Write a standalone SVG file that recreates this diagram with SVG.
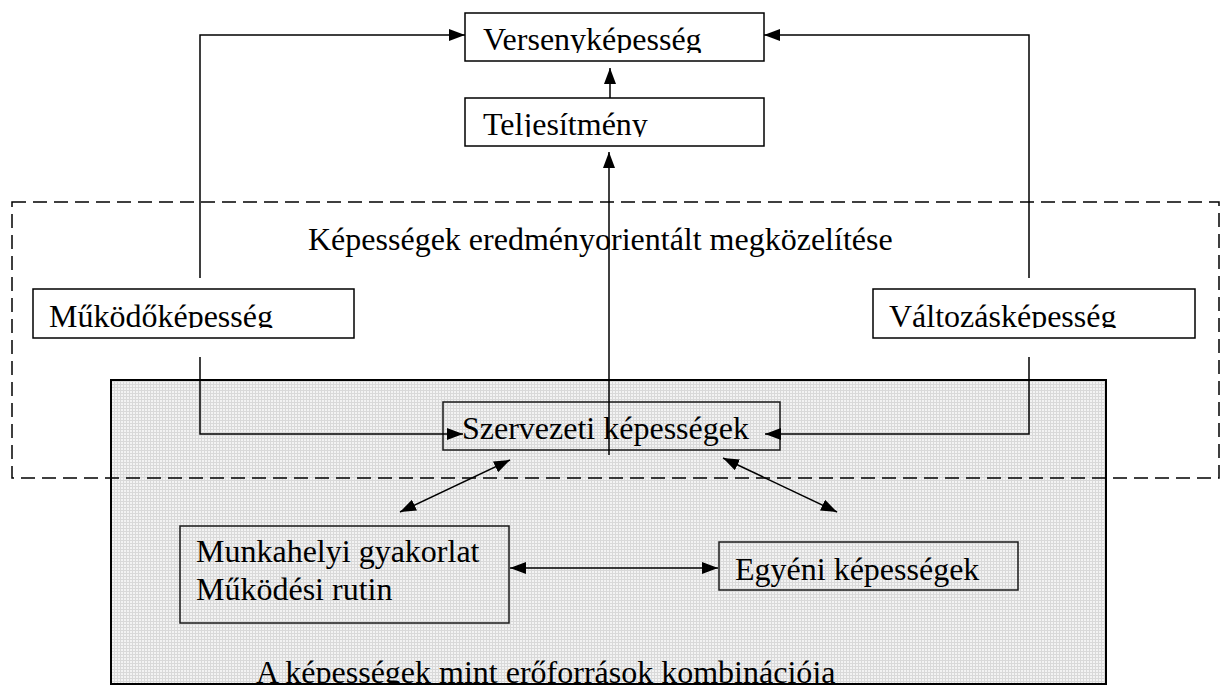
<svg xmlns="http://www.w3.org/2000/svg" width="1223" height="687" viewBox="0 0 1223 687">
<style>
.t{font-family:"Liberation Serif","Times New Roman",serif;font-size:32px;fill:#000}
.box{fill:#fff;stroke:#000;stroke-width:1.5}
.tbox{fill:none;stroke:#1a1a1a;stroke-width:1.5}
.c{fill:none;stroke:#000;stroke-width:1.5}
</style>
<defs>
<pattern id="grid" width="3" height="3" patternUnits="userSpaceOnUse">
<rect width="3" height="3" fill="#f3f3f3"/>
<rect width="3" height="1" fill="#d9d9d9"/>
<rect width="1" height="3" fill="#d9d9d9"/>
</pattern>
<marker id="ah" markerWidth="16" markerHeight="12" refX="16" refY="6" orient="auto-start-reverse" markerUnits="userSpaceOnUse">
<path d="M0,0 L16,6 L0,12 Z" fill="#000"/>
</marker>
<clipPath id="cV"><rect x="465" y="13" width="299" height="40"/></clipPath>
<clipPath id="cT"><rect x="465" y="98" width="299" height="39"/></clipPath>
<clipPath id="cM"><rect x="33" y="289" width="321" height="39"/></clipPath>
<clipPath id="cW"><rect x="873" y="289" width="322" height="39"/></clipPath>
<clipPath id="cB"><rect x="111" y="380" width="995" height="304"/></clipPath>
</defs>
<rect width="1223" height="687" fill="#fff"/>

<g id="resources-area">
<rect x="111" y="380" width="995" height="304" fill="url(#grid)" stroke="#000" stroke-width="2"/>
<text class="t" x="256" y="683" clip-path="url(#cB)">A képességek mint erőforrások kombinációja</text>
</g>

<g id="outcome-area">
<rect x="12" y="202" width="1207" height="276" fill="none" stroke="#000" stroke-width="1.5" stroke-dasharray="14,7"/>
<text class="t" x="308" y="250">Képességek eredményorientált megközelítése</text>
</g>

<g id="versenykepesseg">
<rect class="box" x="465" y="13" width="299" height="48"/>
<text class="t" x="483" y="50" clip-path="url(#cV)">Versenyképesség</text>
</g>

<g id="teljesitmeny">
<rect class="box" x="465" y="98" width="299" height="48"/>
<text class="t" x="483" y="135" clip-path="url(#cT)">Teljesítmény</text>
</g>

<g id="mukodokepesseg">
<rect class="box" x="33" y="289" width="321" height="49"/>
<text class="t" x="49" y="327" clip-path="url(#cM)">Működőképesség</text>
</g>

<g id="valtozaskepesseg">
<rect class="box" x="873" y="289" width="322" height="49"/>
<text class="t" x="889" y="327" clip-path="url(#cW)">Változásképesség</text>
</g>

<g id="szervezeti">
<rect class="tbox" x="443" y="402" width="337" height="48"/>
<text class="t" x="462" y="439">Szervezeti képességek</text>
</g>

<g id="munkahelyi">
<rect class="tbox" x="180" y="526" width="329" height="97"/>
<text class="t" x="196" y="562">Munkahelyi gyakorlat</text>
<text class="t" x="196" y="600">Működési rutin</text>
</g>

<g id="egyeni">
<rect class="tbox" x="719" y="542" width="299" height="48"/>
<text class="t" x="735" y="580">Egyéni képességek</text>
</g>

<g id="connectors">
<polyline class="c" points="200,278 200,35 465,35" marker-end="url(#ah)"/>
<polyline class="c" points="1029,278 1029,35 764,35" marker-end="url(#ah)"/>
<line class="c" x1="610" y1="98" x2="610" y2="68" marker-end="url(#ah)"/>
<line class="c" x1="609" y1="455" x2="609" y2="152" marker-end="url(#ah)"/>
<polyline class="c" points="200,357 200,434 463,434" marker-end="url(#ah)"/>
<polyline class="c" points="1029,357 1029,434 765,434" marker-end="url(#ah)"/>
<line class="c" x1="400" y1="512" x2="510" y2="460" marker-start="url(#ah)" marker-end="url(#ah)"/>
<line class="c" x1="837" y1="512" x2="723" y2="458" marker-start="url(#ah)" marker-end="url(#ah)"/>
<line class="c" x1="510" y1="568" x2="718" y2="568" marker-start="url(#ah)" marker-end="url(#ah)"/>
</g>
</svg>
